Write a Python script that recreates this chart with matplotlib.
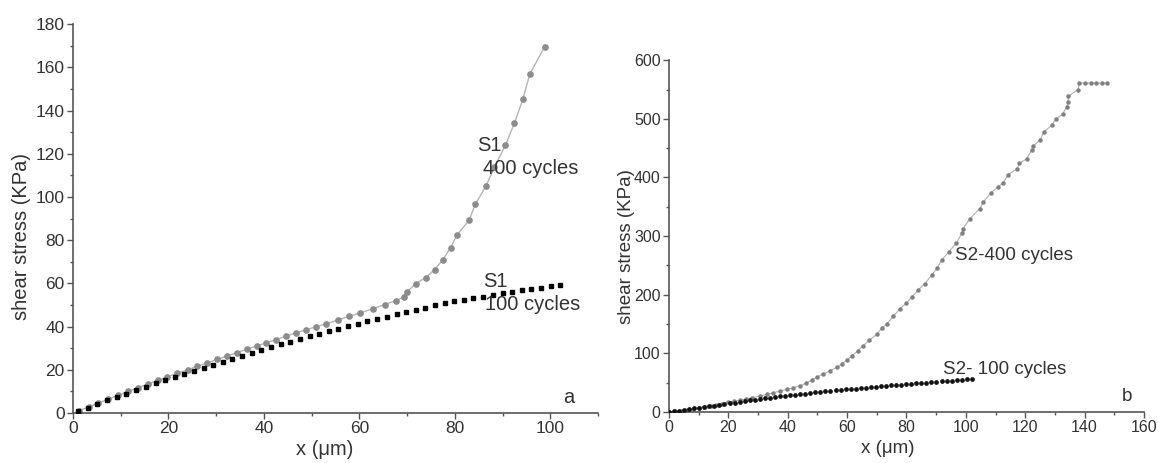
import matplotlib
matplotlib.use("Agg")
import matplotlib.pyplot as plt
from matplotlib.ticker import MultipleLocator

plt.rcParams['font.family'] = ['Liberation Sans', 'DejaVu Sans']

# panel a: S1, 400 cycles (grey circles + line)
s1_400_x = [1.2, 3.3, 5.3, 7.4, 9.5, 11.6, 13.6, 15.7, 17.8, 19.8, 21.9, 24.0, 26.0,
            28.1, 30.2, 32.3, 34.3, 36.4, 38.5, 40.5, 42.6, 44.7, 46.7, 48.8, 50.9,
            53.1, 55.5, 57.8, 60.1, 62.9, 65.3, 67.6, 69.3, 69.9, 71.9, 73.9, 75.8,
            77.5, 79.1, 80.4, 83.0, 84.3, 86.5, 88.3, 90.6, 92.5, 94.3, 95.7, 98.8]
s1_400_y = [1.0, 2.8, 4.6, 6.4, 8.2, 10.0, 11.7, 13.4, 15.1, 16.8, 18.4, 20.0, 21.6,
            23.2, 24.8, 26.4, 27.9, 29.5, 31.0, 32.5, 34.0, 35.6, 37.0, 38.5, 39.9,
            41.3, 43.1, 44.7, 46.3, 48.3, 50.2, 52.0, 53.6, 56.0, 59.9, 62.7, 66.4,
            71.0, 76.4, 82.2, 89.2, 96.6, 104.9, 113.8, 123.9, 134.2, 145.5, 156.8, 169.4]

# panel a: S1, 100 cycles (black squares)
s1_100_x = [1.1, 3.1, 5.1, 7.2, 9.2, 11.2, 13.2, 15.2, 17.3, 19.3, 21.3, 23.3, 25.3,
            27.4, 29.4, 31.4, 33.4, 35.4, 37.5, 39.5, 41.5, 43.5, 45.5, 47.6, 49.6,
            51.6, 53.6, 55.6, 57.7, 59.7, 61.7, 63.7, 65.7, 67.8, 69.8, 71.8, 73.8,
            75.8, 77.9, 79.9, 81.9, 83.9, 85.9, 88.0, 90.0, 92.0, 94.0, 96.0, 98.1,
            100.1, 102.1]
s1_100_y = [0.9, 2.5, 4.1, 5.8, 7.4, 8.9, 10.5, 12.1, 13.7, 15.3, 16.7, 18.2, 19.6,
            21.0, 22.4, 23.8, 25.2, 26.5, 27.9, 29.3, 30.6, 31.8, 33.0, 34.3, 35.6,
            36.7, 37.8, 39.0, 40.2, 41.4, 42.4, 43.5, 44.6, 45.8, 46.9, 47.8, 48.8,
            49.8, 50.8, 51.7, 52.5, 53.2, 53.9, 54.8, 55.6, 56.2, 56.8, 57.4, 58.0,
            58.6, 59.2]

# panel b: S2, 400 cycles (small grey dots + line)
s2_400_x = [0, 2, 4, 6, 8, 10, 12, 14, 16, 18, 20, 22, 24, 26, 28, 30.7, 32.9, 35.1,
            37.4, 39.6, 41.9, 44.1, 46.1, 48.1, 50.0, 52.0, 54.2, 56.5, 58.2, 59.9,
            61.5, 63.6, 65.4, 67.5, 70.0, 71.6, 73.5, 75.5, 77.8, 80.0, 81.9, 83.9,
            86.2, 88.5, 90.2, 91.8, 94.2, 96.7, 98.6, 99.1, 101.4, 104.7, 105.9, 108.4,
            110.9, 112.6, 114.3, 117.3, 118.0, 120.5, 122.2, 122.5, 125.0, 126.3,
            128.9, 130.2, 132.6, 133.9, 134.5, 134.5, 137.8, 138.2, 140.0, 142.0,
            144.0, 146.0, 147.4]
s2_400_y = [0, 1.0, 2.2, 3.8, 5.6, 7.5, 9.2, 10.8, 12.5, 14.5, 16.5, 18.4, 20.4, 22.5,
            24.6, 27.3, 30.1, 32.9, 35.8, 38.6, 41.4, 44.8, 48.9, 54.5, 60.2, 64.8,
            70.4, 76.0, 81.8, 88.6, 95.4, 104.5, 113.0, 122.7, 132.4, 142.6, 151.0,
            163.0, 176.0, 186.0, 196.5, 208.0, 219.0, 233.5, 245.0, 259.0, 273.0,
            287.6, 304.6, 313.0, 330.0, 347.0, 358.0, 374.0, 384.0, 391.0, 405.0,
            415.0, 424.0, 432.0, 446.6, 453.0, 463.6, 478.0, 489.0, 499.0, 508.0,
            520.0, 529.0, 538.6, 550.0, 561.0, 561.0, 561.0, 561.0, 561.0, 561.0]

# panel b: S2, 100 cycles (small black dots)
s2_100_x = [0, 1.7, 3.4, 5.1, 6.8, 8.5, 10.2, 11.9, 13.6, 15.3, 17.0, 18.7, 20.4,
            22.1, 23.8, 25.5, 27.2, 28.9, 30.6, 32.3, 34.0, 35.7, 37.4, 39.1, 40.8,
            42.5, 44.2, 45.9, 47.6, 49.3, 51.0, 52.7, 54.4, 56.1, 57.8, 59.5, 61.2,
            62.9, 64.6, 66.3, 68.0, 69.7, 71.4, 73.1, 74.8, 76.5, 78.2, 79.9, 81.6,
            83.3, 85.0, 86.7, 88.4, 90.1, 91.8, 93.5, 95.2, 96.9, 98.6, 100.3, 102.0]
s2_100_y = [0, 1.2, 2.5, 3.7, 4.9, 6.1, 7.3, 8.5, 9.8, 11.0, 12.4, 13.7, 15.0, 16.2,
            17.4, 18.6, 19.8, 21.0, 22.2, 23.4, 24.6, 25.7, 26.7, 27.7, 28.7, 29.7,
            30.6, 31.6, 32.5, 33.5, 34.4, 35.3, 36.1, 36.9, 37.7, 38.5, 39.3, 40.1,
            40.9, 41.7, 42.5, 43.2, 44.0, 44.7, 45.4, 46.1, 46.8, 47.5, 48.2, 48.9,
            49.6, 50.3, 51.0, 51.7, 52.4, 53.1, 53.8, 54.6, 55.4, 56.2, 57.0]

TXT = '#333333'
AXC = '#555555'


def style_axes(ax, xmax, ymax, xmajor, ymajor, tick_fs, label_fs):
    ax.set_xlim(0, xmax)
    ax.set_ylim(0, ymax)
    for side in ('top', 'right'):
        ax.spines[side].set_visible(False)
    for side in ('left', 'bottom'):
        ax.spines[side].set_color(AXC)
        ax.spines[side].set_linewidth(1.2)
    ax.xaxis.set_major_locator(MultipleLocator(xmajor))
    ax.xaxis.set_minor_locator(MultipleLocator(xmajor / 2))
    ax.yaxis.set_major_locator(MultipleLocator(ymajor))
    ax.yaxis.set_minor_locator(MultipleLocator(ymajor / 2))
    ax.tick_params(which='major', direction='out', length=4, width=1, color=AXC,
                   labelsize=tick_fs, labelcolor=TXT, pad=2)
    ax.tick_params(which='minor', direction='out', length=2.5, width=1, color=AXC)
    ax.set_xlabel('x (μm)', fontsize=label_fs, color=TXT)
    ax.set_ylabel('shear stress (KPa)', fontsize=label_fs, color=TXT)


fig = plt.figure(figsize=(11.58, 4.63), dpi=100)
ax1 = fig.add_axes([0.063, 0.108, 0.4534, 0.840])
ax2 = fig.add_axes([0.5777, 0.110, 0.4102, 0.760])

# panel a
ax1.plot(s1_400_x, s1_400_y, color='#b5b5b5', linewidth=1.0, marker='o',
         markersize=3.8, markerfacecolor='#8c8c8c', markeredgecolor='#8c8c8c', zorder=2)
ax1.plot(s1_100_x, s1_100_y, linestyle='none', marker='s', markersize=3.4,
         markerfacecolor='black', markeredgecolor='black', zorder=3)
style_axes(ax1, 110, 180, 20, 20, 12.5, 14.5)
ax1.xaxis.set_label_coords(0.48, -0.069)
ax1.yaxis.set_label_coords(-0.079, 0.455)
ax1.text(84.6, 124, 'S1', fontsize=14.5, color=TXT, va='center', ha='left')
ax1.text(86.0, 113, '400 cycles', fontsize=14.5, color=TXT, va='center', ha='left')
ax1.text(86.0, 61, 'S1', fontsize=14.5, color=TXT, va='center', ha='left')
ax1.text(86.3, 50, '100 cycles', fontsize=14.5, color=TXT, va='center', ha='left')
ax1.text(103.8, 7.2, 'a', fontsize=14.5, color=TXT, va='center', ha='center')

# panel b
ax2.plot(s2_400_x, s2_400_y, color='#b0b0b0', linewidth=0.8, marker='o',
         markersize=2.2, markerfacecolor='#808080', markeredgecolor='#808080', zorder=2)
ax2.plot(s2_100_x, s2_100_y, linestyle='none', marker='o', markersize=2.4,
         markerfacecolor='#111111', markeredgecolor='#111111', zorder=3)
style_axes(ax2, 160, 600, 20, 100, 11.5, 13.5)
ax2.xaxis.set_label_coords(0.46, -0.08)
ax2.yaxis.set_label_coords(-0.071, 0.47)
ax2.text(96.3, 267, 'S2-400 cycles', fontsize=13.5, color=TXT, va='center', ha='left')
ax2.text(92.3, 72, 'S2- 100 cycles', fontsize=13.5, color=TXT, va='center', ha='left')
ax2.text(154.3, 27, 'b', fontsize=13.5, color=TXT, va='center', ha='center')

fig.savefig('out.png', dpi=100)
